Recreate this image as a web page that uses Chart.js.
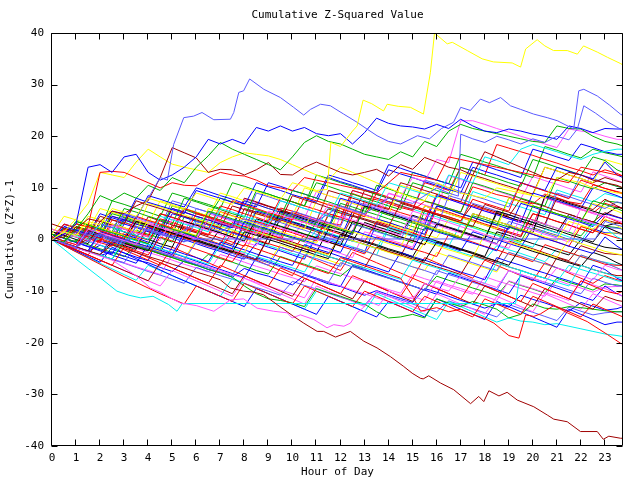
<!DOCTYPE html>
<html>
<head>
<meta charset="utf-8">
<title>Cumulative Z-Squared Value</title>
<script src="https://cdn.jsdelivr.net/npm/chart.js@4.4.1/dist/chart.umd.min.js"></script>
<style>
  html, body { margin: 0; padding: 0; background: #fff; }
  #chart { display: block; }
</style>
</head>
<body>
<canvas id="chart" width="640" height="480"></canvas>
<script>
// ---- Axis ticks ----
const HOUR_TICKS = [0,1,2,3,4,5,6,7,8,9,10,11,12,13,14,15,16,17,18,19,20,21,22,23];
const VALUE_TICKS = [-40,-30,-20,-10,0,10,20,30,40];

// ---- Sample times for the half-hourly walks ----
const HALF_HOURS = [
  0,0.5,1,1.5,2,2.5,3,
  3.5,4,4.5,5,5.5,6,6.5,
  7,7.5,8,8.5,9,9.5,10,
  10.5,11,11.5,12,12.5,13,13.5,
  14,14.5,15,15.5,16,16.5,17,
  17.5,18,18.5,19,19.5,20,20.5,
  21,21.5,22,22.5,23,23.5,23.75
];

// ---- Outlier paths: [hour, value] ----
const yellowTop = [[0,0],[0.5,1.5],[1,0.8],[1.5,3.5],[2,2.8],[2.5,6],[3,5.3],[3.5,4.5],[4,8],[4.5,7.3],[5,6.5],[5.5,5.8],[6,9],[6.5,8.3],[7,7.5],[7.5,6.8],[8,10],[8.5,9.3],[9,8.5],[9.5,7.8],[10,11],[10.5,10.3],[11,9.5],[11.45,9.7],[11.6,18.8],[12,18],[12.5,21],[12.69,22],[12.94,27],[13.3,26.3],[13.79,24.9],[13.94,26.2],[14.4,25.8],[14.91,25.6],[15.45,24.3],[15.74,32.4],[15.91,40],[16.44,37.9],[16.65,38.2],[17.27,36.6],[17.89,35],[18.36,34.4],[19.14,34.2],[19.49,33.4],[19.7,36.9],[20.18,38.7],[20.5,37.5],[20.86,36.6],[21.43,36.6],[21.85,35.9],[22.11,37.5],[22.68,36.3],[23.1,35.3],[23.64,34.1],[23.75,33.8]];
const lightBlueTop = [[0,0],[0.5,-0.7],[1,1.5],[1.5,0.8],[2,3],[2.5,2.3],[3,5],[3.5,4.3],[4,8],[4.5,12],[4.8,11.5],[5.06,18.4],[5.48,23.6],[5.89,23.9],[6.24,24.6],[6.73,23.2],[7.42,23.3],[7.56,24.6],[7.77,28.5],[7.97,28.8],[8.22,31.1],[8.81,29.1],[9.5,27.5],[10.05,25.6],[10.47,24.1],[10.75,25.2],[11.17,26.2],[11.58,25.9],[12.13,24.3],[12.69,22.7],[13.1,21.4],[13.52,20.1],[14,19],[14.5,18.5],[15.2,20.1],[15.7,19.5],[16.2,21.5],[16.7,22.7],[17,25.6],[17.4,25],[17.82,27.2],[18.2,26.5],[18.66,27.5],[19.07,25.9],[19.49,25.2],[20.03,24.3],[20.6,23.6],[21.02,23],[21.7,21.4],[21.91,28.8],[22.12,29.1],[22.68,27.8],[23.2,26],[23.64,24.3],[23.75,24]];
const lightBlueSecond = [[0,0],[1,-1.5],[2,1],[3,-0.5],[4,2],[5,0.5],[6,3],[7,1.5],[8,4],[9,2.5],[10,5],[11,3.5],[12,6.5],[13,5],[14,8],[15,7],[16,10],[16.5,9],[16.9,8.4],[17,20.4],[17.5,19.5],[18,18.8],[18.5,20],[19,19.3],[19.5,18.5],[20,19.5],[20.5,18.8],[21,20],[21.5,19.3],[21.85,21.4],[22.12,25.9],[22.6,24.5],[23.1,22.8],[23.64,21.4],[23.75,21.2]];
const darkRedBottom = [[0,0],[0.5,-0.7],[1,-1.4],[1.5,-2.2],[2,-2.9],[2.5,-1],[3,-1.8],[3.5,-2.5],[4,-3.3],[4.5,-4],[5,-4.8],[5.5,-5.5],[6,-6.3],[6.5,-7],[7,-7.8],[7.42,-9.4],[7.97,-10],[8.4,-10.2],[8.8,-10.7],[9.36,-12.6],[10.05,-14.9],[10.47,-16.2],[11.03,-17.8],[11.3,-17.8],[11.79,-18.9],[12.41,-17.8],[12.97,-19.7],[13.52,-21],[14.08,-22.7],[14.63,-24.6],[14.98,-25.9],[15.33,-26.9],[15.44,-27],[15.67,-26.4],[16.16,-27.8],[16.71,-29.1],[17.41,-31.8],[17.75,-30.4],[17.96,-31.4],[18.17,-29.3],[18.59,-30.3],[18.93,-29.6],[19.35,-31.1],[20.04,-32.4],[20.6,-34],[20.87,-34.8],[21.43,-35.3],[21.98,-37.2],[22.68,-37.2],[22.93,-38.7],[23.16,-38.1],[23.65,-38.5],[23.75,-38.5]];
const magentaLow = [[0,0],[0.5,-0.8],[1,-1.6],[1.5,-2.4],[2,-3.2],[2.5,-4],[3,-5.5],[3.5,-7],[4.09,-9.4],[4.5,-10.2],[5,-11.5],[5.34,-12.3],[6,-12.8],[6.73,-13.9],[7.14,-12.6],[7.42,-11.7],[7.97,-11.5],[8.53,-13.3],[9.22,-13.9],[9.78,-14.2],[9.99,-15.2],[10.33,-14.6],[10.89,-15.5],[11.44,-17.1],[11.72,-16.5],[12.14,-16.8],[12.41,-16.2],[12.69,-14.2],[12.97,-13.1],[13.18,-12],[13.6,-12.8],[14,-10],[14.5,-10.8],[15,-11.5],[15.5,-8.5],[16,-9.3],[16.5,-10],[17,-7],[17.5,-7.8],[18,-8.5],[18.5,-9.3],[19,-6],[19.5,-6.8],[20,-7.5],[20.5,-8.3],[21,-5.5],[21.5,-6.3],[22,-7],[22.5,-7.8],[23,-5],[23.5,-5.8],[23.75,-6]];
const cyanFlat = [[0,0],[0.5,-1.9],[1,-3.8],[1.5,-5.6],[2,-7.4],[2.7,-10],[3.2,-10.8],[3.68,-11.3],[4.2,-11],[4.85,-12.6],[5.2,-13.9],[5.42,-12.4],[19.28,-12.4],[19.5,-6],[20,-6.8],[20.5,-7.5],[21,-8.3],[21.5,-9],[22,-5],[22.5,-5.8],[23,-6.5],[23.5,-7.3],[23.75,-7.5]];
const lightBlueFlat = [[0,0],[0.5,-0.8],[1,-1.5],[1.5,1.5],[2,0.8],[2.5,0],[3,-0.8],[3.5,2.5],[4,1.8],[4.5,1],[5,0.3],[5.5,-0.4],[6,0.1],[22.6,0.1],[23,3.5],[23.5,2.8],[23.75,2.5]];
const redLow = [[0,0],[0.5,-0.8],[1,-1.6],[1.5,1],[2,0.2],[2.5,-0.6],[3,-1.4],[3.5,-2.2],[4,-3],[4.5,0.5],[5,-0.3],[5.5,-1.1],[6,-1.9],[6.5,-2.7],[7,-3.5],[7.5,-4.3],[8,-1],[8.5,-1.8],[9,-2.6],[9.5,-3.4],[10,-4.2],[10.5,-5],[11,-5.8],[11.5,-6.6],[12,-3.5],[12.5,-4.3],[13,-5.1],[13.5,-5.9],[14,-6.7],[14.5,-7.5],[15,-11],[15.33,-13.9],[16,-13.2],[16.5,-14],[17,-13.5],[17.5,-14.5],[18,-15.3],[18.38,-16.2],[19,-18.6],[19.42,-19.1],[19.7,-14.6],[20.04,-14.9],[20.32,-14.4],[20.87,-12.8],[21.43,-14.2],[22.26,-15.9],[23.1,-18.4],[23.65,-20.1],[23.75,-20.3]];

// ---- Half-hourly walks (values at HALF_HOURS) ----
const walkB1 = [0,1,3,14,14.5,13,16, 16.5,13,11.5,12.5,14,16,19.4, 18.5,19.4,18.5,21.7,21,22,21, 21.7,20.5,20.1,20.5,18.5,20.7,23.5, 22.5,22,21.8,21.4,22.3,21.5,23.3, 22,21,20.7,21.4,21,20.4,20, 19.4,22,21.5,20.7,21.5,21.4,21.4];
const walkG1 = [0,-0.5,2,5,8.5,7.5,9, 8,10.5,9.5,12,11,14,16.2, 18.8,17.5,16.5,15.5,14.5,13.5,16, 18.8,20.1,19,18.5,17.5,16.5,16, 15.5,17,16,19,18,21,22.3, 21.5,21,20.5,20,19.5,19,18.8, 22,21.5,21.4,20,19,18.5,18.1];
const walkDR1 = [0,0.5,2,4,3.5,5.5,5, 6.5,7.5,12,17.8,16.8,15.8,13, 13.6,13.5,12.5,13.5,14.9,12.6,12.5, 14,15,14,13,12.5,13,13.6, 12.3,14.5,13.6,15.9,15,14,13.5, 12.5,17,16,15,14,13,12, 11.5,13,12.5,11.5,11,10.5,10];
const walkR1 = [0,1,3,2.5,13,13.2,13, 12,11,10,11,10.5,10.4,12, 13,12.5,12.3,11.5,10.4,10,9.5, 12,11.5,11,10.5,10,9.5,9, 11,13,12.5,12,11.5,16,15.5, 15,14.5,14,13.5,13,12.5,12, 11.5,11,14,13.5,13,12.5,12.3];
const walkY1 = [0,1.5,4,7,13,12.5,12, 15,17.5,16,14.6,14,13.5,13, 14.9,16,16.8,16.5,16.2,15.5,14.5, 13.5,12.5,11.5,14,13,12,11, 10,9,8,7.5,11,10,9, 8.5,8,10,9.5,9,8.5,8, 12,11.5,11,10,9.5,9,9];
const walkM2 = [0,-0.7,-1.5,2,1.3,0.5,-0.2, -1,3,2.3,1.5,0.8,0,4, 3.3,2.5,1.8,1,5.5,4.8,4, 3.3,2.5,7,6.3,5.5,4.8,4, 9,8.3,12,11.3,15.5,14.9,23, 23,22.3,21.5,20.8,20,19.3,18.5, 17.8,21.4,21,20.7,20,19.4,19.4];
const walkC2 = [0,1.5,0.8,0,3,2.3,1.5, 0.8,0,4.5,3.8,3,2.3,1.5, 6,5.3,4.5,3.8,3,7.5,6.8, 6,5.3,4.5,9,8.3,7.5,6.8, 11,10.3,9.5,8.8,8,12.5,11.8, 11,16,15.3,14.5,17.5,18.4,17.7, 17,16.2,15.5,16.5,17.1,17.5,17.5];
const walk01 = [0.5,-0.3,-1,2.5,1.7,0.9,0.2, 4.5,3.7,3,2.2,6,5.2,4.4, 3.7,7.5,6.8,6,5.2,4.5,3.8, 8.2,7.5,6.7,6,5.2,4.4,9, 8.2,7.4,6.6,5.8,5,4.3,3.6, 7.8,7,6.3,5.5,11,10.2,9.4, 8.7,7.9,11.5,10.7,9.9,9.2,8.8];
const walk02 = [1,0.3,3.5,2.8,2,1.3,0.6, -0.1,-0.8,2.8,2,1.3,0.6,5.5, 4.8,4,3.3,2.5,1.8,1,0.3, -0.4,3.5,2.8,2,1.3,6.2,5.5, 4.7,4,3.2,2.5,1.7,1,0.2, 4.6,3.9,3.1,2.4,1.6,6.5,5.8, 5,4.3,3.5,7.5,6.8,6,5.5];
const walk03 = [0,-0.8,-1.5,-2.2,1.5,0.8,0, -0.7,-1.4,-2.1,-2.9,1.2,0.4,-0.3, -1,-1.8,3.5,2.7,2,1.2,0.5, -0.2,-1,-1.7,-2.5,1.8,1,0.3, -0.5,-1.2,-2,2.3,1.5,0.8,0, -0.7,-1.4,-2.2,2.5,1.7,1,0.2, -0.5,-1.3,-2,-2.7,0.5,-1.3,-2];
const walk04 = [2,1.2,0.5,-0.2,-1,2.8,2, 1.3,0.5,-0.2,4,3.3,2.5,1.8, 1,0.3,-0.5,-1.2,3,2.3,1.5, 0.8,0,-0.7,4.5,3.8,3,2.2, 1.5,0.8,5.5,4.8,4,3.3,2.5, 1.8,1,0.3,-0.5,4.5,3.7,3, 2.2,1.5,6,5.2,4.5,3.7,3.3];
const walk05 = [0,-0.8,-1.6,-2.3,-3,-3.8,0.5, -0.3,-1,-1.8,-2.5,-3.3,-4,-4.8, -1,-1.8,-2.5,-3.3,-4,-4.8,-5.5, -6.3,-2.5,-3.3,-4,-4.8,-5.5,-6.2, -7,-7.7,-4,-4.8,-5.5,-6.3,-7, -7.8,-8.5,-4.5,-5.3,-6,-6.8,-7.5, -8.2,-5,-5.8,-6.5,-7.2,-8,-8.2];
const walk06 = [3,2.2,1.5,0.8,4.5,3.8,3, 7.5,6.7,6,5.2,4.5,3.8,3, 2.3,6.5,5.8,5,4.3,3.5,8.5, 7.7,7,6.2,5.5,4.7,4,3.3, 2.5,7,6.3,5.5,4.8,4,3.3, 2.5,6.8,6,5.3,4.5,3.8,3, 8,7.2,6.5,5.8,7.8,6.5,6];
const walk07 = [1,4.5,3.8,3,2.3,1.5,0.8, 0,3.8,3,2.3,1.5,0.8,6, 5.3,4.5,3.8,3,2.3,1.5,0.8, 0,-0.7,3,2.2,1.5,0.7,0, -0.8,-1.5,3.5,2.8,2,1.3,0.5, 5,4.3,3.5,2.8,2,1.3,0.5, -0.2,3.5,2.8,2,4,2.7,2];
const walk08 = [0,-0.7,-1.5,1.5,0.8,0,-0.7, -1.5,-2.2,2,1.3,0.5,-0.2,-1, -1.7,-2.5,1.5,0.8,0,-0.7,-1.5, -2.2,-3,-3.7,1,0.3,-0.5,-1.2, -2,-2.7,-3.5,-4.2,-0.5,-1.2,-2, -2.7,-3.5,-4.2,-5,-1.5,-2.3,-3, -3.8,-4.5,-5.2,-2.5,-3.3,-4.5,-5];
const walk09 = [0,-0.8,-1.5,-2.3,-3,0.5,-0.2, -1,-1.7,-2.5,-3.2,-4,-0.5,-1.2, -2,-2.7,-3.5,-4.2,-5,-1.5,-2.2, -3,-3.7,-4.5,-5.2,-1.5,-2.2,-3, -3.8,-4.5,-5.3,-6,-6.8,-3,-3.8, -4.5,-5.3,-6,-2.5,-3.2,-4,-4.7, -5.5,-6.2,-3,-3.8,-4.5,-5.5,-6];
const walk10 = [0,-1,-2,-3,-4,-5,-1.5, -2.5,-3.5,-4.5,-5.5,-6.5,-7.5,-8.5, -5,-6,-7,-8,-9,-5.5,-6.5, -7.5,-8.5,-9.5,-10.5,-7,-8,-9, -10,-11,-7.5,-8.5,-9.5,-10.5,-11.5, -8,-9,-10,-11,-12,-8.5,-9.5, -10.5,-11.5,-8,-9,-10,-10.5,-10];
const walk11 = [0,2.5,1.8,1,5,4.2,3.5, 8,7.2,6.5,5.8,5,9.5,8.7, 8,7.2,6.5,11,10.2,9.5,8.7, 8,7.2,12,11.2,10.5,9.7,9, 13.5,12.7,12,11.2,10.5,9.7,9, 14,13.2,12.5,11.7,11,10.2,9.5, 14,13.2,12.5,11.7,15,12.5,12];
const walk12 = [1,0.3,-0.5,3,2.3,1.5,6, 5.3,4.5,3.8,3,8,7.3,6.5, 5.8,5,4.3,9.5,8.8,8,7.3, 6.5,11,10.3,9.5,8.8,8,7.3, 6.5,5.8,11,10.3,9.5,8.8,14, 13.3,12.5,11.8,11,10.3,15.5,14.8, 14,13.3,12.5,16,15.3,13.5,13];
const walk15 = [0,-0.8,3,2.3,1.5,0.8,0, -0.8,-1.5,-2.3,2,1.3,0.5,-0.2, -1,-1.7,-2.5,1.5,0.8,0,-0.8, -1.5,-2.3,-3,0.5,-0.2,-1,-1.7, -2.5,-3.2,-4,-0.5,-1.2,-2,-2.7, -3.5,1,0.2,-0.5,-1.3,-2,-2.8, -3.5,0,-0.8,-1.5,-2.3,-2.8,-3];
const walk16 = [0,-1,-2,-3,-4,-5,-6, -7,-8,-4.5,-5.5,-6.5,-7.5,-8.5, -9.5,-10.5,-7,-8,-9,-10,-11, -7.5,-8.5,-9.5,-10.5,-11.5,-8,-9, -10,-11,-12,-8.5,-9.5,-10.5,-11.5, -12.5,-9,-10,-11,-12,-13,-9.5, -10.5,-11.5,-12.5,-13.5,-11,-11.8,-12];
const walk17 = [1.5,0.8,0,-0.8,3,2.3,1.5, 0.8,0,-0.8,-1.5,3.5,2.8,2, 1.3,0.5,-0.3,4,3.3,2.5,1.8, 1,0.3,-0.5,-1.2,3.5,2.8,2, 1.3,0.5,-0.2,-1,3,2.3,1.5, 0.8,0,5.5,4.8,4,3.3,2.5, 1.8,1,0.3,-0.5,2.5,1.5,1];
const walk18 = [0,-0.7,-1.5,2.5,1.8,1,5, 4.3,3.5,2.8,2,1.3,6,5.3, 4.5,3.8,3,2.3,1.5,0.8,5.5, 4.8,4,3.3,2.5,7.5,6.8,6, 5.3,4.5,3.8,3,2.3,8.5,7.8, 7,6.3,5.5,4.8,4,3.3,2.5, 9,8.3,7.5,6.8,6,7.3,7];
const walk19 = [0,-1.2,-2.4,-3.6,-4.8,-6,-7.2, -8.3,-9.4,-10.5,-11.5,-12.5,-9,-10, -11,-12,-8.5,-9.5,-10.5,-11.5,-12.5, -9,-10,-11,-12,-13,-10,-11, -12,-13,-14,-11,-12,-13,-14, -15,-11.5,-12.5,-13.5,-14.5,-11,-12, -13,-14,-15,-12.5,-13.5,-14.5,-15];
const walk20 = [0,-0.8,-1.5,-2.3,-3,-3.8,-0.5, -1.3,-2,-2.8,-3.5,-4.3,-5,-5.8, -6.5,-7.3,-9,-10.5,-11.5,-11.8,-12.3, -13,-9.5,-10.3,-11,-11.8,-12.5,-14, -15.2,-15,-14.5,-15.2,-11.5,-12.3,-13, -12,-12.7,-13.5,-15.2,-14.5,-12.5,-13.3, -13.5,-13,-13.2,-13.5,-13.8,-14,-14];
const walk21 = [0,-1.1,-2.2,-3.3,-4.4,-1.5,-2.6, -3.7,-4.8,-5.9,-7,-8,-9,-10, -11,-12,-13,-9.5,-10.5,-11.5,-12.5, -13.5,-14.5,-11,-12,-13,-14,-15, -12,-13,-14,-15,-11.5,-12.5,-13.5, -14.5,-15.5,-12,-13,-14,-15,-16, -17,-13.5,-14.5,-15.5,-16.5,-16,-16];
const walk22 = [0,-1.2,-2.4,-3.5,-4.6,-5.7,-6.8, -7.9,-5,-6,-7,-8,-9,-10, -11,-7.5,-8.5,-9.5,-10.5,-11.5,-12.5, -13.5,-10,-11,-12,-13,-14,-10.5, -11.5,-12.5,-13.5,-14.5,-15.5,-12,-13, -14,-15,-16,-15.2,-15.8,-16,-16.5, -16.3,-16.8,-17.3,-17.8,-18.3,-18.6,-18.8];
const walk23 = [0,-0.8,-1.5,-2.3,1.5,0.8,0, -0.8,-1.5,-2.3,-3,1,0.2,-0.5, -1.3,-2,-2.8,2.5,1.8,1,0.3, -0.5,-1.2,-2,-2.7,-3.5,1.5,0.8, 0,-0.7,-1.5,3.5,2.8,2,1.3, 0.5,-0.2,-1,-1.7,2.5,1.8,1, 0.3,-0.5,4,3.2,2.5,1.5,1];
const walk24 = [2,1.3,0.5,4.5,3.8,3,2.3, 1.5,7,6.3,5.5,4.8,4,3.3, 2.5,1.8,1,5,4.3,3.5,2.8, 2,7.5,6.8,6,5.3,4.5,3.8, 3,2.3,1.5,6.5,5.8,5,4.3, 3.5,2.8,2,8,7.3,6.5,5.8, 5,4.3,3.5,7,6.3,5.5,5];
const walk25 = [0,-0.8,2.5,1.8,1,0.3,-0.5, -1.3,-2,-2.8,-3.5,0.5,-0.3,-1, -1.8,-2.5,-3.3,-4,0.5,-0.2,-1, -1.8,-2.5,-3.3,-4,-4.8,-5.5,-1.5, -2.3,-3,-3.8,-4.5,-5.3,-6,-6.8, -3,-3.8,-4.5,-5.3,-6,-6.8,-7.5, -3.5,-4.3,-5,-5.8,-6.5,-7,-7];
const walk26 = [0,-0.8,-1.5,-2.3,1.5,0.8,0, 3.5,2.8,2,1.3,0.5,-0.2,4, 3.3,2.5,1.8,1,0.3,5.5,4.8, 4,3.3,2.5,1.8,1,6.5,5.8, 5,4.3,3.5,2.8,2,1.3,0.5, 5,4.3,3.5,2.8,2,1.3,8.5, 7.8,7,6.3,5.5,4.8,6.3,6];
const walk27 = [0,-0.8,-1.5,-2.3,-3,-3.8,-4.5, -1,-1.8,-2.5,-3.3,-4,-4.8,-5.5, -6.3,-7,-3,-3.8,-4.5,-5.3,-6, -6.8,-7.5,-8.3,-4.5,-5.3,-6,-6.8, -7.5,-8.3,-9,-9.8,-6,-6.8,-7.5, -8.3,-9,-9.8,-6,-6.8,-7.5,-8.3, -9,-9.8,-10.5,-7.5,-8.3,-9,-9];
const walk28 = [0,3,2.3,1.5,0.8,0,-0.8, 3.5,2.8,2,1.3,0.5,5,4.3, 3.5,2.8,2,1.3,0.5,-0.3,4, 3.3,2.5,1.8,1,0.3,-0.5,3.5, 2.8,2,1.3,0.5,6,5.3,4.5, 3.8,3,2.3,1.5,0.8,5,4.3, 3.5,2.8,2,1.3,4.5,3.5,3];
const walk29 = [0,2.5,1.8,1,0.3,4.5,3.8, 3,2.3,1.5,6,5.3,4.5,3.8, 3,2.3,7.5,6.8,6,5.3,4.5, 3.8,3,2.3,8,7.3,6.5,5.8, 5,4.3,3.5,2.8,8.5,7.8,7, 6.3,5.5,4.8,4,3.3,9,8.3, 7.5,6.8,6,10,9.3,8.5,8];
const walk30 = [1,0.3,-0.5,-1.3,-2,-2.8,1, 0.3,-0.5,-1.3,-2,-2.8,-3.5,-4.3, -0.5,-1.3,-2,-2.8,-3.5,-4.3,-5, -1,-1.8,-2.5,-3.3,-4,-4.8,-5.5, -6.3,-2.5,-3.3,-4,-4.8,-5.5,-6.3, -7,-7.8,-3.5,-4.3,-5,-5.8,-6.5, -7.3,-8,-8.8,-5,-5.8,-7.5,-8];
const walk31 = [0,-0.8,-1.5,1.5,0.8,0,-0.8, -1.5,2.5,1.8,1,0.3,-0.5,-1.3, -2,1.5,0.8,0,-0.8,-1.5,-2.3, 1,0.3,-0.5,-1.3,-2,-2.8,0.5, -0.3,-1,-1.8,-2.5,-3.3,1,0.3, -0.5,-1.3,-2,-2.8,-3.5,-4.3,-1, -1.8,-2.5,-3.3,-4,-4.8,-5,-5];
const walk32 = [0.5,-0.3,2.5,1.8,1,5,4.3, 3.5,2.8,2,6.5,5.8,5,4.3, 8,7.3,6.5,5.8,5,4.3,9.5, 8.8,8,7.3,6.5,5.8,5,10.5, 9.8,9,8.3,7.5,6.8,6,5.3, 11,10.3,9.5,8.8,8,7.3,6.5, 12,11.3,10.5,9.8,11,10.3,10];
const walk33 = [0,-0.8,-1.5,-2.3,1,0.3,-0.5, -1.3,-2,2,1.3,0.5,-0.3,-1, -1.8,3,2.3,1.5,0.8,0,-0.8, -1.5,2,1.3,0.5,-0.3,-1,-1.8, 2.5,1.8,1,0.3,-0.5,-1.3,3, 2.3,1.5,0.8,0,-0.8,-1.5,2, 1.3,0.5,-0.3,3,2.3,0.5,0];
const walk34 = [0,-0.8,-1.5,-2.3,-3,-3.8,-4.5, -5.3,-6,-6.8,-3,-3.8,-4.5,-5.3, -6,-6.8,-7.5,-8.3,-9,-9.8,-10.5, -11.3,-7.5,-8.3,-9,-9.8,-10.5,-11.3, -12,-12.5,-11,-11.8,-8,-8.8,-9.5, -10.3,-11,-11.8,-8,-8.8,-9.5,-10.3, -11,-11.8,-8,-8.8,-9.5,-10.5,-11];
const walk35 = [0,-0.8,2.5,1.8,6,5.3,4.5, 3.8,3,7.5,6.8,6,5.3,4.5, 9,8.3,7.5,6.8,6,5.3,4.5, 10,9.3,8.5,7.8,7,6.3,5.5, 4.8,10.5,9.8,9,8.3,7.5,13, 12.3,11.5,10.8,10,9.3,8.5,14, 13.3,12.5,11.8,11,15.5,14.8,14.5];
const walk36 = [0,-0.8,-1.5,2.5,1.8,5.5,4.8, 4,8.5,7.8,7,6.3,10,9.3, 8.5,7.8,7,6.3,11,10.3,9.5, 8.8,8,12.5,11.8,11,10.3,9.5, 14.5,13.8,13,12.3,11.5,10.8,10, 15,14.3,13.5,12.8,12,17.5,16.8, 16,15.3,18.5,17.8,17,16.5,16.5];
const walk37 = [0,2,1.3,0.5,-0.3,3,2.3, 1.5,0.8,5,4.3,3.5,2.8,2, 6.5,5.8,5,4.3,3.5,8,7.3, 6.5,5.8,5,4.3,9.5,8.8,8, 7.3,6.5,5.8,11,10.3,9.5,14, 13.3,12.5,18.4,17.7,17,16.3,15.5, 14.8,14,13.3,12.5,13.5,12.8,12.3];
const walk38 = [0,-0.8,-1.5,1.5,0.8,4.5,3.8, 3,2.3,1.5,6,5.3,4.5,3.8, 3,2.3,8,7.3,6.5,5.8,5, 4.3,3.5,9.5,8.8,8,7.3,6.5, 5.8,11,10.3,9.5,8.8,8,7.3, 12.5,11.8,11,10.3,9.5,8.8,14, 13.3,12.5,11.8,11,12,11.3,11];
const walk39 = [1,0.3,3.5,2.8,2,7.5,6.8, 6,5.3,4.5,9,8.3,7.5,6.8, 6,11,10.3,9.5,8.8,8,7.3, 6.5,12.5,11.8,11,10.3,9.5,8.8, 8,7.3,13,12.3,11.5,10.8,16.5, 15.8,15,14.3,13.5,12.8,12,18, 17.3,16.5,15.8,17.5,16.8,16.3,16];
const walk40 = [0,-0.8,-1.5,-2.3,-3,0.5,-0.3, -1,-1.8,-2.5,1.5,0.8,0,-0.8, -1.5,-2.3,-3,-3.8,0.5,-0.3,-1, -1.8,-2.5,2,1.3,0.5,-0.3,-1, -1.8,-2.5,-3.3,0.5,-0.3,-1,-1.8, -2.5,-3.3,1.5,0.8,0,-0.8,-1.5, -2.3,-3,0,-0.8,-1.5,-1.8,-2];
const walk42 = [0,-0.8,2,1.3,0.5,-0.3,-1, 2.5,1.8,1,0.3,-0.5,3.5,2.8, 2,1.3,0.5,-0.3,4,3.3,2.5, 1.8,1,0.3,-0.5,3,2.3,1.5, 0.8,0,4.5,3.8,3,2.3,1.5, 0.8,0,-0.8,3.5,2.8,2,1.3, 0.5,4.5,3.8,3,2.3,2.2,2];
const walk43 = [0,-1,-2,-3,-4,-5,-6, -7,-8,-9,-6,-7,-8,-9, -10,-11,-7.5,-8.5,-9.5,-10.5,-11.5, -12.5,-9,-10,-11,-12,-13,-10, -11,-12,-13,-14,-10.5,-11.5,-12.5, -13.5,-14.5,-11,-12,-13,-14,-10.5, -11.5,-12.5,-13.5,-10.5,-11.5,-12.5,-13];
const walk44 = [0,2,1.3,0.5,-0.3,-1,3, 2.3,1.5,0.8,5,4.3,3.5,2.8, 2,1.3,0.5,5.5,4.8,4,3.3, 2.5,1.8,1,0.3,5.5,4.8,4, 3.3,2.5,1.8,1,6.5,5.8,5, 4.3,3.5,2.8,2,7,6.3,5.5, 4.8,4,3.3,2.5,5,4.3,4];
const walk45 = [0,-0.8,-1.5,3,2.3,1.5,0.8, 0,-0.8,4,3.3,2.5,1.8,1, 0.3,-0.5,-1.3,3.5,2.8,2,1.3, 0.5,-0.3,5,4.3,3.5,2.8,2, 1.3,0.5,-0.3,-1,3,2.3,1.5, 0.8,0,-0.8,2.5,1.8,1,0.3, -0.5,-1.3,2.5,1.8,1,0.3,0];
const walk46 = [1,0.2,-0.6,-1.4,-2.2,-3,-3.8, -4.6,-1,-1.8,-2.6,-3.4,-4.2,-5, -5.8,-6.6,-7.4,-3.5,-4.3,-5.1,-5.9, -6.7,-7.5,-8.3,-9.1,-5,-5.8,-6.6, -7.4,-8.2,-9,-9.8,-10.6,-6.5,-7.3, -8.1,-8.9,-9.7,-10.5,-7,-7.8,-8.6, -9.4,-10.2,-11,-11.8,-9,-10.5,-11];
const walk47 = [0,-0.8,2,1.3,0.5,-0.3,4, 3.3,2.5,1.8,1,6,5.3,4.5, 3.8,3,2.3,1.5,0.8,5,4.3, 3.5,2.8,2,7,6.3,5.5,4.8, 4,3.3,2.5,1.8,6.5,5.8,5, 4.3,3.5,2.8,8,7.3,6.5,5.8, 5,4.3,3.5,2.8,7.5,7.2,7];
const walk48 = [0,-1,-2,-3,0,-1,-2, -3,-4,-5,-1.5,-2.5,-3.5,-4.5, -5.5,-2,-3,-4,-5,-6,-7, -3,-4,-5,-6,-2.5,-3.5,-4.5, -5.5,-6.5,-7.5,-3.5,-4.5,-5.5,-6.5, -7.5,-4,-5,-6,-7,-8,-4.5, -5.5,-6.5,-7.5,-8.5,-7,-7.8,-8];
const walk49 = [0,-0.8,-1.5,-2.3,1.5,0.8,0, -0.8,-1.5,-2.3,-3,-3.8,0,-0.8, -1.5,-2.3,-3,-3.8,-4.5,-1,-1.8, -2.5,-3.3,-4,-4.8,-1.5,-2.3,-3, -3.8,-4.5,-5.3,-6,-2.5,-3.3,-4, -4.8,-5.5,-6.3,-2.5,-3.3,-4,-4.8, -5.5,-6.3,-3,-3.8,-4.5,-5.5,-6];
const walk50 = [2,1.2,0.5,-0.3,3.5,2.8,2, 1.3,0.5,5,4.3,3.5,2.8,2, 1.3,0.5,6,5.3,4.5,3.8,3, 2.3,1.5,0.8,0,4.5,3.8,3, 2.3,1.5,0.8,6.5,5.8,5,4.3, 3.5,2.8,2,1.3,0.5,5,4.3, 3.5,2.8,2,1.3,3.8,3.2,3];
const walk51 = [0,3,2.3,1.5,0.8,0,4.5, 3.8,3,2.3,7.5,6.8,6,5.3, 4.5,3.8,3,9,8.3,7.5,6.8, 6,5.3,4.5,3.8,9.5,8.8,8, 7.3,6.5,5.8,11.5,10.8,10,9.3, 8.5,7.8,7,6.3,11,10.3,9.5, 8.8,8,12.5,11.8,11,10.3,10];
const walk52 = [0.5,-0.3,-1,2.5,1.8,1,0.3, 4,3.3,2.5,1.8,1,0.3,5, 4.3,3.5,2.8,2,1.3,0.5,-0.3, 4.5,3.8,3,2.3,1.5,7,6.3, 5.5,4.8,4,3.3,8.5,7.8,7, 6.3,5.5,4.8,4,3.3,2.5,8, 7.3,6.5,5.8,5,4.3,6.5,6];
const walk53 = [0,-0.6,-1.4,0.2,-0.5,3.8,3.3, 2.5,1.6,1.2,0.4,2.2,1.5,0.9, 5.4,4.6,3.9,3.5,2.7,6.1,5.5, 4.7,4,3.2,2.8,8.9,8.1,7.7, 7,6.2,5.6,7.4,6.8,6,5.3, 10.2,9.5,8.7,8.2,7.4,6.9,8.8, 8.1,7.3,6.9,10.6,9.9,9.3,9];
const walk54 = [0,-0.9,-1.7,-2.2,-3.1,-2.4,-3.2, -4,-4.5,-5.4,-6.2,-4.1,-4.9,-5.8, -6.4,-7.3,-5.6,-6.5,-7.1,-8,-8.8, -6.9,-7.7,-8.6,-9.1,-10,-10.8,-9.9, -10.7,-11.4,-12.2,-9.5,-10.2,-11,-11.8, -12.5,-13.3,-12.4,-13.1,-10.8,-11.6,-12.3, -13.1,-13.9,-12.2,-12.9,-13.7,-13.4,-13];
const walk55 = [0.5,2.9,2.3,1.5,0.7,1.6,0.9, 0.1,4.4,3.6,2.8,2.3,1.5,0.8, 3.3,2.5,1.8,7.2,6.4,5.7,5, 4.3,3.5,5.9,5.1,4.4,9.5,8.7, 8,7.2,6.5,5.7,5,4.4,3.6, 6.8,6,5.3,4.5,7.9,7.1,6.4, 5.6,4.9,4.1,3.4,5.2,4.4,4];
const walk56 = [0,1.2,0.4,-0.4,-1.1,-1.9,0.6, -0.2,-0.9,-1.7,1.8,1,0.3,-0.5, -1.3,-2,0.4,-0.4,-1.2,-1.9,-2.7, -3.4,0.9,0.1,-0.7,-1.4,-2.2,-3, 2.1,1.3,0.6,-0.2,-1,-1.7,-2.5, -3.2,-4,-1.2,-2,-2.7,-3.5,-4.3, -1.8,-2.6,-3.3,-4.1,-4.4,-4.9,-5];
const walk57 = [0,-0.7,1.9,1.2,0.4,5.3,4.6, 3.8,3.1,2.3,1.6,0.8,3.2,2.4, 1.7,0.9,0.2,-0.6,4.7,3.9,3.2, 2.4,1.7,0.9,6.3,5.5,4.8,4, 3.3,2.5,1.8,1,0.3,3.9,3.1, 2.4,1.6,0.9,0.1,-0.6,2.2,1.4, 0.7,-0.1,2.6,1.8,1.1,1.3,1];
const walk58 = [0,-0.8,-0.2,-1,-1.8,-2.5,-3.3, -1.2,-2,-2.7,-3.5,-4.3,-5,-2.9, -3.7,-4.4,-5.2,-6,-6.7,-3.3,-4.1, -4.8,-5.6,-6.4,-7.1,-5.2,-6,-6.7, -7.5,-8.3,-9,-9.8,-7.1,-7.9,-8.6, -9.4,-10.1,-10.9,-8.1,-8.9,-9.6,-10.4, -7.5,-8.3,-9,-9.8,-8.6,-8.8,-9];
const walk59 = [1,0.3,-0.5,1.8,1,0.3,4.5, 3.8,3,2.3,1.5,5.8,5,4.3, 3.5,2.8,7.9,7.1,6.4,5.6,4.9, 4.1,9.3,8.5,7.8,7,6.3,5.5, 8.9,8.2,7.4,6.7,5.9,12.4,11.6, 10.9,10.1,9.4,8.6,7.9,12.2,11.4, 10.7,9.9,9.2,13.1,12.3,11.5,11];
const walk60 = [0,-0.8,-1.5,-2.3,-3,-0.4,-1.2, -1.9,2.6,1.8,1.1,0.3,-0.4,-1.2, 2.1,1.3,0.6,-0.2,-0.9,4.2,3.4, 2.7,1.9,1.2,0.4,-0.3,3.3,2.5, 1.8,1,4.7,3.9,3.2,2.4,1.7, 0.9,0.2,5.1,4.3,3.6,2.8,2.1, 1.3,4.9,4.1,3.4,2.6,3.2,3];
const walk61 = [0,-0.8,-1.6,-2.3,-3.1,-3.9,-4.6, -5.4,-6.2,-6.9,-7.7,-8.5,-5.4,-6.2, -7,-7.7,-8.5,-9.3,-10,-10.8,-8.1, -8.9,-9.6,-10.4,-11.2,-11.9,-12.7,-10.2, -11,-11.7,-12.5,-13.3,-14,-11.9,-12.7, -13.4,-14.2,-15,-12.6,-13.4,-14.1,-14.9, -15.7,-13.1,-13.9,-14.6,-14.2,-14,-14];
const walk62 = [0,1.7,0.9,0.2,-0.6,-1.3,1.4, 0.6,-0.1,2.9,2.1,1.4,0.6,-0.1, -0.9,3.3,2.5,1.8,1,0.3,5.2, 4.4,3.7,2.9,2.2,1.4,7.5,6.7, 6,5.2,4.5,3.7,8.8,8,7.3, 6.5,5.8,5,4.3,3.5,2.8,8.1, 7.3,6.6,5.8,5.1,7,6.3,6];
const walk63 = [0,-0.9,-1.6,-2.3,-1.1,-1.9,-2.6, -3.4,-4.1,1.5,0.7,0,-0.8,-1.6, -2.3,-3.1,-3.8,-0.7,-1.5,-2.2,-3, -3.8,0.6,-0.2,-0.9,-1.7,-2.5,3.1, 2.3,1.6,0.8,0.1,-0.7,-1.4,-2.2, 1.5,0.7,0,-0.8,-1.5,2.3,1.5, 0.8,0,-0.8,2.1,1.3,1.2,1];
const walk64 = [0,-0.8,3.1,2.3,1.6,0.8,0.1, -0.7,-1.4,-2.2,2.8,2,1.3,0.5, -0.2,-1,2.5,1.7,1,0.2,-0.5, -1.3,-2.1,-2.8,0.6,-0.2,-0.9,-1.7, -2.4,-3.2,1.1,0.3,-0.4,-1.2,-1.9, -2.7,-3.4,-4.2,-0.3,-1.1,-1.8,-2.6, -3.4,-4.1,-1.2,-2,-2.7,-2.9,-3];
const walk65 = [0,2.2,1.5,0.7,0,-0.8,-1.5, 1.8,1,0.3,-0.5,4.4,3.6,2.9, 2.1,1.4,0.6,-0.1,3.4,2.6,1.9, 1.1,0.4,4.7,3.9,3.2,2.4,1.7, 0.9,0.2,-0.6,5.6,4.8,4.1,3.3, 2.6,1.8,1.1,0.3,-0.4,3.7,2.9, 2.2,1.4,0.7,3.4,2.6,2.3,2];
const walk66 = [0,-0.8,-1.5,1.6,0.8,0.1,3.4, 2.6,1.9,1.1,0.4,-0.4,4.2,3.4, 2.7,1.9,1.2,5.8,5,4.3,3.5, 2.8,2,6.1,5.3,4.6,3.8,3.1, 7.4,6.6,5.9,5.1,4.4,3.6,2.9, 9.3,8.5,7.8,7,6.3,5.5,4.8, 9.6,8.8,8.1,7.3,8.9,8.3,8];
const walk67 = [0,-0.8,-1.5,-2.3,-3,-0.2,-1, -1.7,-2.5,-3.2,-4,-4.8,-5.5,-6.3, -2.9,-3.6,-4.4,-5.2,-5.9,-6.7,-7.4, -8.2,-5.1,-5.9,-6.6,-7.4,-8.2,-8.9, -9.7,-10.4,-6.8,-7.6,-8.3,-9.1,-9.9, -10.6,-7.2,-8,-8.7,-9.5,-10.3,-11, -7.9,-8.7,-9.4,-10.2,-9.2,-9.1,-9];

// ---- Styles (kept apart from the values) ----
const RED = "#ff0000", GREEN = "#00b000", BLUE = "#0000ff", MAGENTA = "#ff55ff",
      CYAN = "#00f0f0", DARKRED = "#a00000", YELLOW = "#ffff00", BLACK = "#000000",
      LIGHTBLUE = "#5a5aff";

const tracedSeries = [yellowTop, lightBlueTop, lightBlueSecond, darkRedBottom, magentaLow, cyanFlat, lightBlueFlat, redLow];
const tracedColors = [YELLOW, LIGHTBLUE, LIGHTBLUE, DARKRED, MAGENTA, CYAN, LIGHTBLUE, RED];

const halfHourSeries = [walkB1, walkG1, walkDR1, walkR1, walkY1, walkM2, walkC2,
  walk01, walk02, walk03, walk04, walk05, walk06, walk07, walk08, walk09, walk10, walk11, walk12,
  walk15, walk16, walk17, walk18, walk19, walk20, walk21, walk22, walk23, walk24, walk25, walk26,
  walk27, walk28, walk29, walk30, walk31, walk32, walk33, walk34, walk35, walk36, walk37, walk38,
  walk39, walk40, walk42, walk43, walk44, walk45, walk46, walk47, walk48, walk49, walk50, walk51, walk52,
  walk53, walk54, walk55, walk56, walk57, walk58, walk59, walk60, walk61, walk62, walk63, walk64,
  walk65, walk66, walk67];
const halfHourColors = [BLUE, GREEN, DARKRED, RED, YELLOW, MAGENTA, CYAN,
  RED, GREEN, BLUE, MAGENTA, CYAN, DARKRED, YELLOW, BLACK, LIGHTBLUE, RED, BLUE, GREEN,
  YELLOW, DARKRED, BLACK, LIGHTBLUE, RED, GREEN, BLUE, CYAN, MAGENTA, YELLOW, DARKRED, BLACK,
  LIGHTBLUE, RED, BLUE, BLUE, RED, GREEN, CYAN, MAGENTA, YELLOW, BLUE, RED, DARKRED,
  GREEN, BLACK, LIGHTBLUE, MAGENTA, BLUE, RED, BLUE, GREEN, RED, YELLOW, DARKRED, LIGHTBLUE, MAGENTA,
  RED, BLUE, DARKRED, CYAN, YELLOW, GREEN, MAGENTA, BLACK, LIGHTBLUE, RED, BLUE, DARKRED,
  GREEN, CYAN, MAGENTA];

const FONT = { family: "'DejaVu Sans Mono', 'Liberation Mono', monospace", size: 11, weight: "normal" };

function lineSet(points, color) {
  return {
    data: points,
    borderColor: color,
    borderWidth: 1,
    pointRadius: 0,
    tension: 0,
    fill: false
  };
}

const datasets = [];
tracedSeries.forEach((pts, i) => {
  datasets.push(lineSet(pts.map(([h, v]) => ({ x: h, y: v })), tracedColors[i]));
});
halfHourSeries.forEach((vals, i) => {
  datasets.push(lineSet(vals.map((v, k) => ({ x: HALF_HOURS[k], y: v })), halfHourColors[i]));
});

// ---- Gnuplot-style frame with inward ticks on all four sides ----
const frameTicks = {
  id: "frameTicks",
  afterDraw(chart) {
    const { ctx, chartArea: a, scales: { x, y } } = chart;
    const L = Math.round(a.left) - 0.5, R = Math.round(a.right) - 0.5;
    const T = Math.round(a.top) + 0.5, B = Math.round(a.bottom) - 0.5;
    const len = 6;
    ctx.save();
    ctx.strokeStyle = "#000";
    ctx.lineWidth = 1;
    ctx.beginPath();
    ctx.rect(L, T, R - L, B - T);
    HOUR_TICKS.forEach(v => {
      const px = Math.round(x.getPixelForValue(v)) - 0.5;
      ctx.moveTo(px, B); ctx.lineTo(px, B - len);
      ctx.moveTo(px, T); ctx.lineTo(px, T + len);
    });
    VALUE_TICKS.forEach(v => {
      const py = Math.round(y.getPixelForValue(v)) + 0.5;
      ctx.moveTo(L, py); ctx.lineTo(L + len, py);
      ctx.moveTo(R, py); ctx.lineTo(R - len, py);
    });
    ctx.stroke();
    ctx.restore();
  }
};

new Chart(document.getElementById("chart"), {
  type: "line",
  data: { datasets },
  options: {
    responsive: false,
    animation: false,
    devicePixelRatio: 1,
    events: [],
    layout: { padding: { top: 0, left: 0, right: 17, bottom: 0 } },
    plugins: {
      legend: { display: false },
      tooltip: { enabled: false },
      title: {
        display: true,
        fullSize: false,
        text: "Cumulative Z-Squared Value",
        color: "#000",
        font: FONT,
        padding: { top: 9, bottom: 10.8 }
      }
    },
    scales: {
      x: {
        type: "linear",
        min: 0,
        max: 23.75,
        grid: { display: false, drawTicks: false },
        border: { display: false },
        afterBuildTicks: s => { s.ticks = HOUR_TICKS.map(v => ({ value: v })); },
        afterFit: s => { s.height = 34; },
        ticks: { color: "#000", font: FONT, padding: 6, maxRotation: 0, autoSkip: false },
        title: { display: true, text: "Hour of Day", color: "#000", font: FONT, padding: { top: 0, bottom: 1.5 } }
      },
      y: {
        min: -40,
        max: 40,
        grid: { display: false, drawTicks: false },
        border: { display: false },
        afterBuildTicks: s => { s.ticks = VALUE_TICKS.map(v => ({ value: v })); },
        afterFit: s => { s.width = 52; },
        ticks: { color: "#000", font: FONT, padding: 8 },
        title: { display: true, text: "Cumulative (Z*Z)-1", color: "#000", font: FONT, padding: { top: 3.5, bottom: 0 } }
      }
    }
  },
  plugins: [frameTicks]
});
</script>
</body>
</html>
